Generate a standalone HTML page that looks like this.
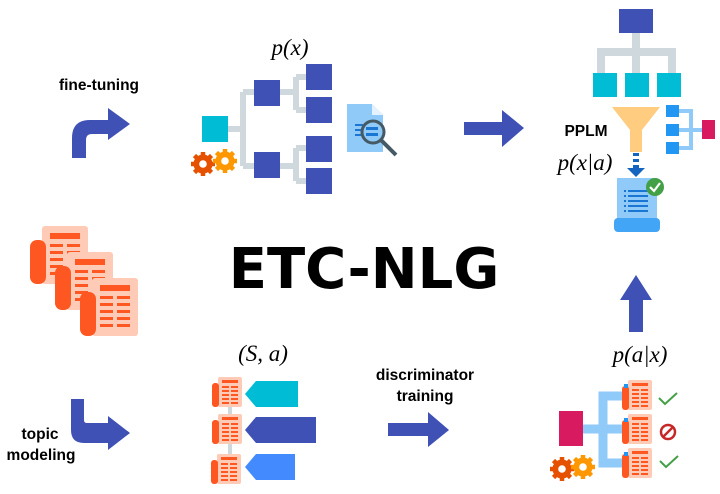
<!DOCTYPE html>
<html><head><meta charset="utf-8"><style>
html,body{margin:0;padding:0;background:#fff;width:720px;height:494px;overflow:hidden}
svg{display:block}
.m{font-family:"Liberation Serif",serif;font-style:italic;font-size:23px}
.b{font-family:"Liberation Sans",sans-serif;font-weight:bold;font-size:15.5px}
.t{font-family:"DejaVu Sans","Liberation Sans",sans-serif;font-weight:bold;font-size:56px}
</style></head><body>
<svg width="720" height="494" viewBox="0 0 720 494" xmlns="http://www.w3.org/2000/svg">
<defs>
<g id="gear"><circle r="7" fill="none" stroke-width="5"/>
<g stroke-width="4.5"><line x1="0" y1="-12" x2="0" y2="12"/><line x1="-12" y1="0" x2="12" y2="0"/><line x1="-8.5" y1="-8.5" x2="8.5" y2="8.5"/><line x1="-8.5" y1="8.5" x2="8.5" y2="-8.5"/></g>
<circle r="3.8" fill="#fff" stroke="none"/></g>
<g id="doc"><rect x="6" y="0" width="24" height="30" rx="2" fill="#ffcbb6"/><rect x="0" y="6" width="7" height="24" rx="3" fill="#ff5722"/><rect x="10" y="3" width="16" height="3" fill="#ff5722"/>
<g fill="#ff5722"><rect x="10" y="9" width="7" height="2"/><rect x="19" y="9" width="7" height="2"/><rect x="10" y="13" width="7" height="2"/><rect x="19" y="13" width="7" height="2"/><rect x="10" y="17" width="7" height="2"/><rect x="19" y="17" width="7" height="2"/><rect x="10" y="21" width="7" height="2"/><rect x="19" y="21" width="7" height="2"/><rect x="10" y="25" width="7" height="2"/><rect x="19" y="25" width="7" height="2"/></g></g>
<g id="bigdoc"><rect x="12" y="0" width="46" height="58" rx="3" fill="#ffcbb6"/><rect x="0" y="14" width="16" height="44" rx="7" fill="#ff5722"/><rect x="20" y="7" width="30" height="6" fill="#ff5722"/>
<g fill="#ff5722"><rect x="20" y="18" width="13" height="3"/><rect x="37" y="18" width="13" height="3"/><rect x="20" y="25" width="13" height="3"/><rect x="37" y="25" width="13" height="3"/><rect x="20" y="32" width="13" height="3"/><rect x="37" y="32" width="13" height="3"/><rect x="20" y="39" width="13" height="3"/><rect x="37" y="39" width="13" height="3"/><rect x="20" y="46" width="13" height="3"/><rect x="37" y="46" width="13" height="3"/></g></g>
</defs>

<text x="99" y="90" class="b" text-anchor="middle">fine-tuning</text>
<path d="M72 158 V138 Q72 120 90 120 H108 V108 L130 124 L108 140 V134 H92 Q86 134 86 140 V158 Z" fill="#3f51b5"/>

<text x="290" y="55" class="m" text-anchor="middle">p(x)</text>
<g fill="none" stroke="#cfd8dc" stroke-width="6">
<path d="M228 129 H243 M243 92 V166 M243 92 H254 M243 166 H254 M280 92 H296 M296 77 V110 M296 77 H306 M296 110 H306 M280 166 H296 M296 148 V181 M296 148 H306 M296 181 H306"/></g>
<rect x="202" y="116" width="26" height="26" fill="#00bcd4"/>
<g fill="#3f51b5"><rect x="254" y="80" width="26" height="26"/><rect x="254" y="152" width="26" height="26"/><rect x="306" y="64" width="26" height="26"/><rect x="306" y="97" width="26" height="26"/><rect x="306" y="136" width="26" height="26"/><rect x="306" y="168" width="26" height="26"/></g>
<use href="#gear" x="203" y="164" stroke="#e65100" fill="#e65100"/>
<use href="#gear" x="225" y="161" stroke="#ff9800" fill="#ff9800"/>
<path d="M347 104 H372 L383 115 V152 H347 Z" fill="#90caf9"/><path d="M372 104 V115 H383 Z" fill="#e3f2fd"/>
<g fill="#1976d2"><rect x="355" y="124" width="8" height="2"/><rect x="355" y="129" width="6" height="2"/><rect x="355" y="134" width="8" height="2"/></g>
<circle cx="373" cy="132" r="11" fill="#90caf9" stroke="#455a64" stroke-width="3"/>
<g fill="#1976d2"><rect x="366" y="127" width="12" height="3"/><rect x="366" y="133" width="12" height="3"/></g>
<line x1="381" y1="140" x2="396" y2="155" stroke="#455a64" stroke-width="4"/>

<path d="M464 122 H502 V110 L524 128 L502 147 V135 H464 Z" fill="#3f51b5"/>

<g fill="none" stroke="#cfd8dc" stroke-width="8"><path d="M636 33 V52 M601 76 V52 H672 V76 M636 52 V76"/></g>
<rect x="619" y="9" width="34" height="24" fill="#3f51b5"/>
<g fill="#00bcd4"><rect x="593" y="73" width="24" height="24"/><rect x="625" y="73" width="24" height="24"/><rect x="657" y="73" width="24" height="24"/></g>
<path d="M612 107 H660 L642 130 V152 H630 V130 Z" fill="#ffcc80"/>
<g fill="#1565c0"><rect x="633" y="153" width="6" height="3"/><rect x="633" y="159" width="6" height="3"/><rect x="633" y="165" width="6" height="3"/><path d="M627 168 H645 L636 177 Z"/></g>
<g fill="none" stroke="#90caf9" stroke-width="4"><path d="M679 111 H691 V148 H679 M679 130 H702"/></g>
<g fill="#2196f3"><rect x="666" y="105" width="13" height="12"/><rect x="666" y="124" width="13" height="12"/><rect x="666" y="142" width="13" height="12"/></g>
<rect x="702" y="120" width="13" height="19" fill="#d81b60"/>
<text x="586" y="136" class="b" text-anchor="middle">PPLM</text>
<text x="585" y="170" class="m" text-anchor="middle">p(x|a)</text>
<rect x="617" y="178" width="40" height="48" fill="#90caf9"/>
<rect x="614" y="218" width="46" height="14" rx="4" fill="#42a5f5"/>
<g fill="#1976d2"><rect x="624" y="190" width="2" height="2"/><rect x="628" y="190" width="20" height="2"/><rect x="624" y="195" width="2" height="2"/><rect x="628" y="195" width="20" height="2"/><rect x="624" y="200" width="2" height="2"/><rect x="628" y="200" width="20" height="2"/><rect x="624" y="205" width="2" height="2"/><rect x="628" y="205" width="20" height="2"/><rect x="624" y="210" width="2" height="2"/><rect x="628" y="210" width="20" height="2"/></g>
<circle cx="655" cy="187" r="9" fill="#43a047"/>
<path d="M650 187 L654 191 L660 183" fill="none" stroke="#fff" stroke-width="2.2"/>

<path d="M636 275 L652 300 H643 V332 H629 V300 H620 Z" fill="#3f51b5"/>

<text x="364" y="288" class="t" text-anchor="middle">ETC-NLG</text>

<use href="#bigdoc" x="30" y="226"/>
<use href="#bigdoc" x="55" y="252"/>
<use href="#bigdoc" x="80" y="278"/>

<path d="M71 399 H84 V420 Q84 423 87 423 H108 V416 L130 433 L108 450 V443 H84 Q71 443 71 430 Z" fill="#3f51b5"/>
<text x="40" y="439" class="b" text-anchor="middle">topic</text>
<text x="41" y="460" class="b" text-anchor="middle">modeling</text>

<text x="263" y="361" class="m" text-anchor="middle">(S, a)</text>
<line x1="230" y1="405" x2="230" y2="455" stroke="#cfd8dc" stroke-width="4"/>
<use href="#doc" x="212" y="377"/>
<use href="#doc" x="212" y="414"/>
<use href="#doc" x="211" y="454"/>
<path d="M245 394 L256 381 H298 V407 H256 Z" fill="#00bcd4"/>
<path d="M245 430 L256 417 H316 V443 H256 Z" fill="#3f51b5"/>
<path d="M245 467 L256 454 H295 V480 H256 Z" fill="#448aff"/>

<text x="425" y="380" class="b" text-anchor="middle">discriminator</text>
<text x="425" y="401" class="b" text-anchor="middle">training</text>
<path d="M388 423 H428 V412 L449 430 L428 447 V436 H388 Z" fill="#3f51b5"/>

<text x="640" y="362" class="m" text-anchor="middle">p(a|x)</text>
<g fill="none" stroke="#90caf9" stroke-width="9"><path d="M622 396 H603 V463 H622 M583 429 H622"/></g>
<rect x="559" y="411" width="24" height="35" fill="#d81b60"/>
<use href="#doc" x="622" y="380"/>
<use href="#doc" x="622" y="414"/>
<use href="#doc" x="622" y="448"/>
<rect x="624" y="384" width="4" height="4" fill="#2196f3"/>
<rect x="624" y="418" width="4" height="4" fill="#2196f3"/>
<rect x="624" y="452" width="4" height="4" fill="#2196f3"/>
<path d="M659 398 L665 404 L677 393" fill="none" stroke="#43a047" stroke-width="2"/>
<path d="M660 461 L666 467 L678 456" fill="none" stroke="#43a047" stroke-width="2"/>
<circle cx="668" cy="432" r="7" fill="none" stroke="#c62828" stroke-width="2.5"/>
<line x1="663" y1="437" x2="673" y2="427" stroke="#c62828" stroke-width="2.5"/>
<use href="#gear" x="562" y="469" stroke="#e65100" fill="#e65100"/>
<use href="#gear" x="583" y="467" stroke="#ff9800" fill="#ff9800"/>
</svg>
</body></html>
